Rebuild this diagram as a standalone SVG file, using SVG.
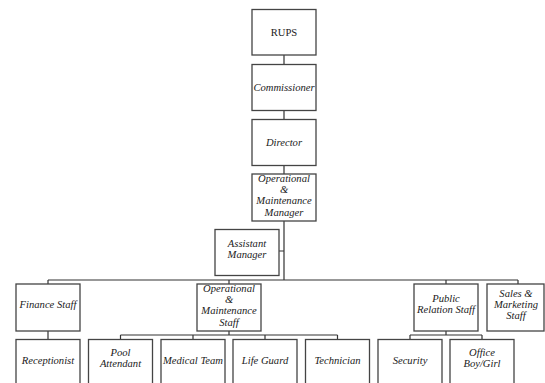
<svg xmlns="http://www.w3.org/2000/svg" width="545" height="383" viewBox="0 0 545 383">
<style>
.b{fill:#fff;stroke:#444;stroke-width:1.3}
.t{font-family:"Liberation Serif","Times New Roman",serif;font-style:italic;font-size:10.6px;fill:#1a1a1a;text-anchor:middle}
.r{font-style:normal}
.c{fill:none;stroke:#333;stroke-width:1.2}
</style>
<rect width="545" height="383" fill="#fff"/>
<g id="connectors">
<path class="c" d="M284 55V64M284 111V119M284 166V174M284 221V280M279 251H284M48 280H518M48 280V284M229 280V284M446 280V284M518 280V284M48 331V339M229 331V335M120.5 335H337.5M120.5 335V339M193 335V339M265 335V339M337.5 335V339M446 331V335M410 335H482M410 335V339M482 335V339"/>
</g>
<g id="rups"><rect class="b" x="252" y="9.5" width="64" height="45.5"/><text class="t r" x="284" y="36">RUPS</text></g>
<g id="commissioner"><rect class="b" x="252" y="64.5" width="64" height="46"/><text class="t" x="284" y="90.5">Commissioner</text></g>
<g id="director"><rect class="b" x="252" y="119.5" width="64" height="46"/><text class="t" x="284" y="145.5">Director</text></g>
<g id="om-manager"><rect class="b" x="252" y="174" width="64" height="47"/><text class="t" x="284" y="182">Operational</text><text class="t" x="284" y="193">&amp;</text><text class="t" x="284" y="204">Maintenance</text><text class="t" x="284" y="215.5">Manager</text></g>
<g id="assistant-manager"><rect class="b" x="215" y="229.5" width="64" height="46"/><text class="t" x="247" y="246.5">Assistant</text><text class="t" x="247" y="258">Manager</text></g>
<g id="finance-staff"><rect class="b" x="16" y="284" width="64" height="47"/><text class="t" x="48" y="308">Finance Staff</text></g>
<g id="om-staff"><rect class="b" x="197" y="284" width="64" height="47"/><text class="t" x="229" y="292">Operational</text><text class="t" x="229" y="303">&amp;</text><text class="t" x="229" y="314">Maintenance</text><text class="t" x="229" y="325.5">Staff</text></g>
<g id="pr-staff"><rect class="b" x="414" y="284" width="64" height="47"/><text class="t" x="446" y="302">Public</text><text class="t" x="446" y="313">Relation Staff</text></g>
<g id="sales-staff"><rect class="b" x="487" y="284" width="57" height="47"/><text class="t" x="516" y="297">Sales &amp;</text><text class="t" x="516" y="308">Marketing</text><text class="t" x="516" y="319">Staff</text></g>
<g id="receptionist"><rect class="b" x="16" y="339.5" width="64" height="50"/><text class="t" x="48" y="364">Receptionist</text></g>
<g id="pool-attendant"><rect class="b" x="88.5" y="339.5" width="64" height="50"/><text class="t" x="120.5" y="356">Pool</text><text class="t" x="120.5" y="367">Attendant</text></g>
<g id="medical-team"><rect class="b" x="161" y="339.5" width="64" height="50"/><text class="t" x="193" y="364">Medical Team</text></g>
<g id="life-guard"><rect class="b" x="233" y="339.5" width="64" height="50"/><text class="t" x="265" y="364">Life Guard</text></g>
<g id="technician"><rect class="b" x="305.5" y="339.5" width="64" height="50"/><text class="t" x="337.5" y="364">Technician</text></g>
<g id="security"><rect class="b" x="378" y="339.5" width="64" height="50"/><text class="t" x="410" y="364">Security</text></g>
<g id="office-boy-girl"><rect class="b" x="450" y="339.5" width="64" height="50"/><text class="t" x="482" y="356">Office</text><text class="t" x="482" y="367">Boy/Girl</text></g>
</svg>
